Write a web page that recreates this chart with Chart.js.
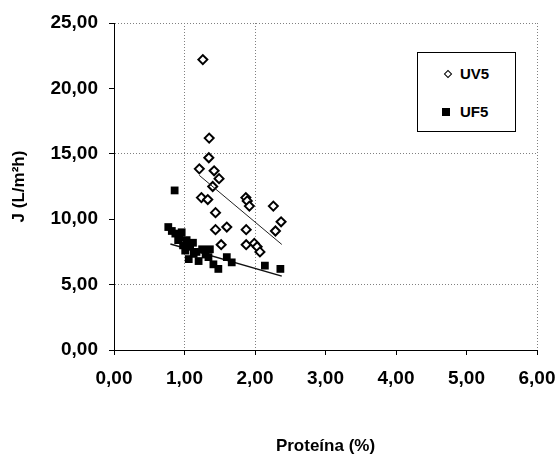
<!DOCTYPE html>
<html>
<head>
<meta charset="utf-8">
<script src="https://cdn.jsdelivr.net/npm/chart.js@4/dist/chart.umd.min.js"></script>
<style>
  html, body { margin: 0; padding: 0; background: #fff; }
  #wrap { position: relative; width: 555px; height: 460px; }
  #legend {
    position: absolute; left: 417px; top: 52px; width: 97px; height: 78px;
    border: 1px solid #000; background: #fff;
    font: bold 15px "Liberation Sans", Arial, sans-serif; color: #000;
  }
  .row { position: absolute; left: 0; height: 20px; line-height: 20px; }
  .row span.txt { position: absolute; left: 42px; top: 0; white-space: nowrap; }
  .mk { position: absolute; box-sizing: border-box; }
  .mk.diamond { width: 6px; height: 6px; border: 1.5px solid #000; background: #fff; transform: rotate(45deg); left: 27px; top: 7px; }
  .mk.square { width: 8px; height: 8px; background: #000; left: 24px; top: 6px; }
</style>
</head>
<body>
<div id="wrap">
  <canvas id="c" width="555" height="460"></canvas>
  <div id="legend"></div>
</div>
<script>
// ---- data ----
const seriesNames = ['UV5', 'UF5'];

const uv5X = [1.26, 1.35, 1.345, 1.21, 1.42, 1.49, 1.40, 1.24, 1.33, 1.87, 1.89, 1.92, 2.26, 1.44, 1.44, 1.60, 1.875, 2.37, 2.29, 1.52, 1.875, 1.99, 2.03, 2.07];
const uv5Y = [22.2, 16.2, 14.7, 13.85, 13.7, 13.1, 12.5, 11.65, 11.5, 11.65, 11.4, 11.0, 11.0, 10.5, 9.2, 9.4, 9.2, 9.8, 9.1, 8.05, 8.05, 8.15, 7.9, 7.5];

const uf5X = [0.86, 0.77, 0.87, 0.96, 0.91, 1.03, 1.12, 1.01, 1.13, 1.25, 1.36, 1.34, 1.06, 1.20, 1.41, 1.60, 1.67, 1.48, 2.14, 2.36, 0.93, 1.08, 0.82, 0.98, 1.17, 1.30];
const uf5Y = [12.2, 9.4, 8.9, 9.0, 8.4, 8.4, 8.2, 7.6, 7.35, 7.7, 7.7, 7.1, 6.95, 6.8, 6.55, 7.1, 6.7, 6.2, 6.45, 6.2, 8.6, 7.9, 9.1, 8.0, 7.5, 7.3];

const trendUV5X = [1.21, 2.38];
const trendUV5Y = [13.35, 8.07];
const trendUF5X = [0.8, 2.38];
const trendUF5Y = [8.1, 5.65];

const xTickLabels = ['0,00', '1,00', '2,00', '3,00', '4,00', '5,00', '6,00'];
const yTickLabels = ['0,00', '5,00', '10,00', '15,00', '20,00', '25,00'];
// grid lines that remain visible in the (scanned) reference
const xGridShown = [1, 2, 6];
const yGridShown = [5, 15, 25];

const xTitle = 'Proteína (%)';
const yTitle = 'J (L/m²h)';

// ---- build ----
const pts = (xs, ys) => xs.map((x, i) => ({ x: x, y: ys[i] }));
const FONT = '"Liberation Sans", Arial, sans-serif';
const GRID = '#808080';

const chart = new Chart(document.getElementById('c'), {
  type: 'scatter',
  data: {
    datasets: [
      { label: 'trendUV5', type: 'line', data: pts(trendUV5X, trendUV5Y), borderColor: '#222', borderWidth: 1, pointRadius: 0, fill: false, order: 0 },
      { label: 'trendUF5', type: 'line', data: pts(trendUF5X, trendUF5Y), borderColor: '#111', borderWidth: 1.5, pointRadius: 0, fill: false, order: 3 },
      { label: seriesNames[0], data: pts(uv5X, uv5Y), pointStyle: 'rectRot', pointRadius: 4.5, pointBorderWidth: 2,
        borderColor: '#000', backgroundColor: '#fff', pointBackgroundColor: '#fff', order: 2 },
      { label: seriesNames[1], data: pts(uf5X, uf5Y), pointStyle: 'rect', pointRadius: 5.5, pointBorderWidth: 0,
        borderColor: '#000', backgroundColor: '#000', pointBackgroundColor: '#000', order: 1 }
    ]
  },
  options: {
    responsive: false,
    animation: false,
    devicePixelRatio: 1,
    layout: { padding: { top: 23, right: 18, left: 0, bottom: 0 } },
    plugins: { legend: { display: false }, tooltip: { enabled: false } },
    scales: {
      x: {
        type: 'linear', min: 0, max: 6,
        ticks: {
          stepSize: 1, padding: 12, color: '#000',
          font: { family: FONT, size: 19, weight: 'bold' },
          callback: (v) => xTickLabels[Math.round(v)],
          maxRotation: 0
        },
        grid: {
          color: (ctx) => (ctx.tick && xGridShown.includes(ctx.tick.value)) ? GRID : 'rgba(0,0,0,0)',
          lineWidth: 1,
          tickColor: '#000', tickLength: 5, tickBorderDash: []
        },
        border: { display: true, color: '#000', width: 1, dash: [1, 2] },
        title: { display: true, text: xTitle, color: '#000', font: { family: FONT, size: 17, weight: 'bold' }, padding: { top: 0, bottom: 3 } },
        afterFit: (s) => { s.height = 110; s.paddingLeft = 0; s.paddingRight = 0; }
      },
      y: {
        type: 'linear', min: 0, max: 25,
        ticks: {
          stepSize: 5, padding: 11, color: '#000',
          font: { family: FONT, size: 19, weight: 'bold' },
          callback: (v) => yTickLabels[Math.round(v / 5)]
        },
        grid: {
          color: (ctx) => (ctx.tick && yGridShown.includes(ctx.tick.value)) ? GRID : 'rgba(0,0,0,0)',
          lineWidth: 1,
          tickColor: '#000', tickLength: 5, tickBorderDash: []
        },
        border: { display: true, color: '#000', width: 1, dash: [1, 2] },
        title: { display: true, text: yTitle, color: '#000', font: { family: FONT, size: 17, weight: 'bold' }, padding: { top: 9, bottom: 0 } },
        afterFit: (s) => { s.width = 114; s.paddingTop = 0; s.paddingBottom = 0; }
      }
    }
  }
});

// ---- legend (HTML) ----
const legend = document.getElementById('legend');
const entries = [
  { name: seriesNames[0], cls: 'diamond', top: 11 },
  { name: seriesNames[1], cls: 'square', top: 49 }
];
entries.forEach(e => {
  const row = document.createElement('div');
  row.className = 'row';
  row.style.top = e.top + 'px';
  row.style.width = '97px';
  const mk = document.createElement('div');
  mk.className = 'mk ' + e.cls;
  const t = document.createElement('span');
  t.className = 'txt';
  t.textContent = e.name;
  row.appendChild(mk);
  row.appendChild(t);
  legend.appendChild(row);
});
</script>
</body>
</html>
